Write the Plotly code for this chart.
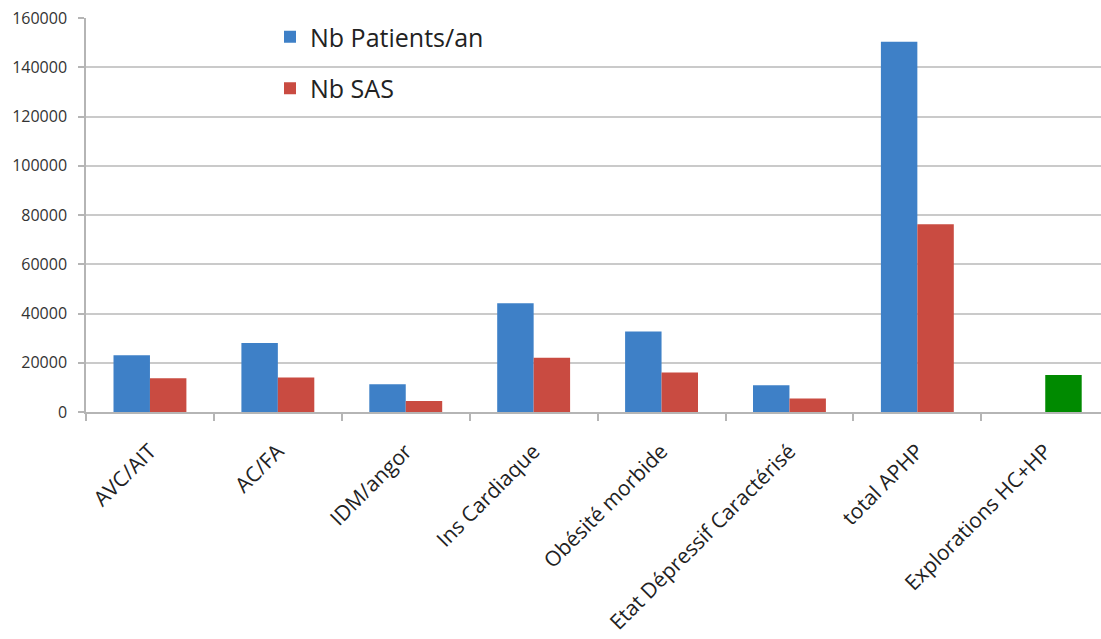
import plotly.graph_objects as go

# Categories and yearly counts
categories = [
    "AVC/AIT",
    "AC/FA",
    "IDM/angor",
    "Ins Cardiaque",
    "Obésité morbide",
    "Etat Dépressif Caractérisé",
    "total APHP",
    "Explorations HC+HP",
]
nb_patients = [23000, 28000, 11300, 44200, 32700, 10900, 150400, None]
nb_sas = [13700, 14000, 4500, 22000, 16000, 5500, 76200, 15000]

y_ticks = [0, 20000, 40000, 60000, 80000, 100000, 120000, 140000, 160000]

BLUE = "#3e80c7"
RED = "#c94b41"
GREEN = "#008a00"

# the explorations bar is highlighted in green
sas_colors = [RED] * (len(categories) - 1) + [GREEN]

fig = go.Figure()
fig.add_trace(go.Bar(
    x=categories, y=nb_patients, name="Nb Patients/an",
    marker=dict(color=BLUE, line=dict(width=0)),
    legendgroup="a",
))
fig.add_trace(go.Bar(
    x=categories, y=nb_sas, name="Nb SAS",
    marker=dict(color=sas_colors, line=dict(width=0)),
    legendgroup="b",
))

W, H = 1101, 639
ML, MT, MB = 86, 18, 227
plot_w = W - ML
plot_h = H - MT - MB
unit = 127.9  # pixels per category
x_max = -0.5 + plot_w / unit

fig.update_layout(
    width=W, height=H,
    margin=dict(l=ML, r=0, t=MT, b=MB, pad=0),
    paper_bgcolor="white", plot_bgcolor="white",
    barmode="group", bargap=0.43, bargroupgap=0,
    font=dict(family="Open Sans", color="#222222"),
    showlegend=True,
    legend=dict(
        x=(270 - ML) / plot_w, y=1 + 4 / plot_h, xanchor="left", yanchor="top",
        bgcolor="rgba(0,0,0,0)", font=dict(size=25, color="#222222"),
        traceorder="grouped", tracegroupgap=16,
    ),
    xaxis=dict(
        range=[-0.5, x_max], tickangle=-45, tickson="boundaries",
        ticks="outside", ticklen=7, tickcolor="#b5b5b5", tickwidth=1.5,
        showline=True, linecolor="#b5b5b5", linewidth=1.5,
        showgrid=False, tickfont=dict(size=21, color="#222222"),
        ticklabelstandoff=17,
    ),
    yaxis=dict(
        range=[0, 160000], tickvals=y_ticks,
        ticktext=[str(v) for v in y_ticks],
        ticks="outside", ticklen=6, tickcolor="#b5b5b5", tickwidth=1.5,
        showline=True, linecolor="#b5b5b5", linewidth=1.5,
        showgrid=True, gridcolor="#cacaca", gridwidth=2,
        zeroline=False, tickfont=dict(size=16, color="#333333"),
        ticklabelstandoff=8,
    ),
)

fig.write_html("out.html")
